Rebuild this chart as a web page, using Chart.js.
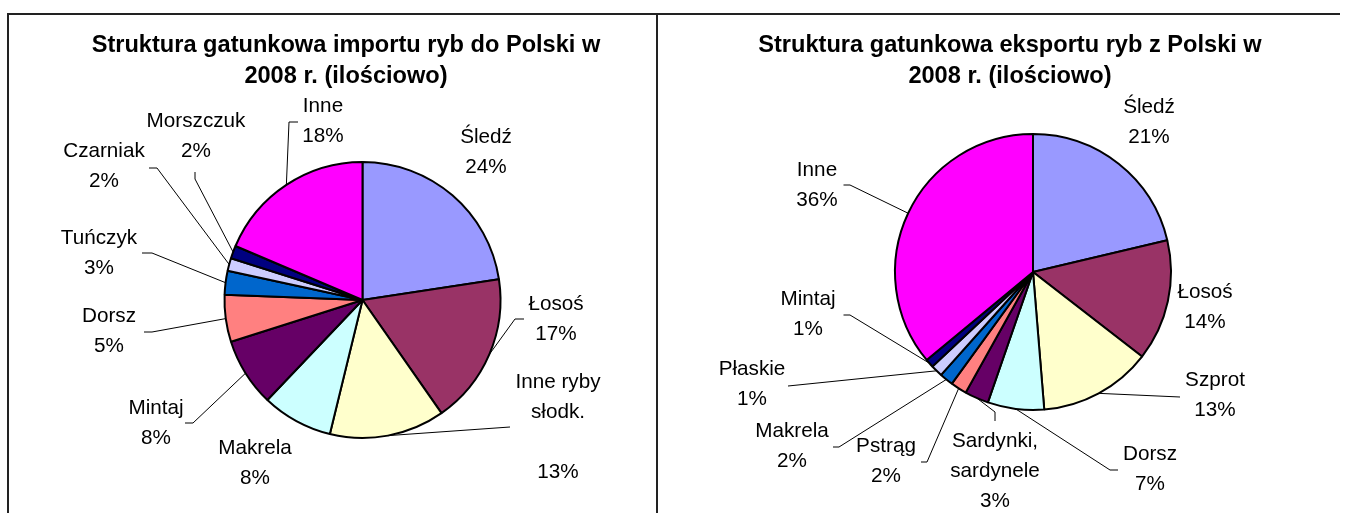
<!DOCTYPE html>
<html><head><meta charset="utf-8">
<script src="https://cdn.jsdelivr.net/npm/chart.js@4.4.1/dist/chart.umd.min.js"></script>
<style>
html,body{margin:0;padding:0;background:#fff;}
#wrap{position:relative;width:1347px;height:513px;overflow:hidden;background:#fff;}
.panel{position:absolute;top:0;height:513px;}
#p1{left:0;width:657px;}
#p2{left:657px;width:690px;}
.frame{position:absolute;background:#222;}
</style></head>
<body><div id="wrap">
<div class="panel" id="p1"><canvas id="c1"></canvas></div>
<div class="panel" id="p2"><canvas id="c2"></canvas></div>
<div class="frame" style="left:7px;top:13px;width:1333px;height:2px"></div>
<div class="frame" style="left:7px;top:13px;width:2px;height:500px"></div>
<div class="frame" style="left:656px;top:13px;width:2px;height:500px"></div>
</div>
<script>
// ---- data ----
const importLabels = ['Śledź','Łosoś','Inne ryby\nsłodk.\n','Makrela','Mintaj','Dorsz','Tuńczyk','Czarniak','Morszczuk','Inne'];
const importValues = [22.6,17.7,13.5,8.3,8.0,5.5,2.8,1.5,1.5,18.6];
const importPct = ['24%','17%','13%','8%','8%','5%','3%','2%','2%','18%'];
const importColors = ['#9999FF','#993366','#FFFFCC','#CCFFFF','#660066','#FF8080','#0066CC','#CCCCFF','#000080','#FF00FF'];
const importTitle = ['Struktura gatunkowa importu ryb do Polski w','2008 r. (ilościowo)'];

const exportLabels = ['Śledź','Łosoś','Szprot','Dorsz','Sardynki,\nsardynele','Pstrąg','Makrela','Płaskie','Mintaj','Inne'];
const exportValues = [21.3,14.2,13.2,6.6,2.8,1.9,1.6,1.4,1.0,36.0];
const exportPct = ['21%','14%','13%','7%','3%','2%','2%','1%','1%','36%'];
const exportColors = ['#9999FF','#993366','#FFFFCC','#CCFFFF','#660066','#FF8080','#0066CC','#CCCCFF','#000080','#FF00FF'];
const exportTitle = ['Struktura gatunkowa eksportu ryb z Polski w','2008 r. (ilościowo)'];

// ---- label placement (offsets from pie centre) ----
const importPlace = [
  {x:123.5,y:-157},
  {x:193.5,y:10, lead:[[161.5,19],[152.5,19]]},
  {x:195.5,y:88, lead:[[147.5,127]]},
  {x:-107.5,y:154},
  {x:-206.5,y:114, lead:[[-177.5,123],[-169.5,123]]},
  {x:-253.5,y:22, lead:[[-218.5,32],[-210.5,32]]},
  {x:-263.5,y:-56, lead:[[-220.5,-47],[-210.5,-47]]},
  {x:-258.5,y:-143, lead:[[-213.5,-132],[-205.5,-132]]},
  {x:-166.5,y:-173, lead:[[-167.5,-128],[-167.5,-121]]},
  {x:-39.5,y:-188, lead:[[-64.5,-178],[-73.5,-178]]}
];
const exportPlace = [
  {x:116,y:-159},
  {x:172,y:26},
  {x:182,y:114, lead:[[147,125]]},
  {x:117,y:188, lead:[[85,198],[77,198]]},
  {x:-38,y:175, lead:[[-38,149],[-38,140]]},
  {x:-147,y:180, lead:[[-112,190],[-106,190]]},
  {x:-241,y:165, lead:[[-200,175],[-194,175]]},
  {x:-281,y:103, lead:[[-245,114]]},
  {x:-225,y:33, lead:[[-189.5,43],[-183,43]]},
  {x:-216,y:-96, lead:[[-189.5,-87],[-183,-87]]}
];

const FONT = '"Liberation Sans", Arial, sans-serif';

const pieLabels = {
  id: 'pieLabels',
  afterDraw(chart, args, opts) {
    const ctx = chart.ctx;
    const meta = chart.getDatasetMeta(0);
    const cx = meta.data[0].x, cy = meta.data[0].y;
    ctx.save();
    ctx.fillStyle = '#000';
    ctx.textAlign = 'center';
    ctx.textBaseline = 'alphabetic';
    ctx.font = 'bold 23.6px ' + FONT;
    opts.title.forEach((t, i) => ctx.fillText(t, opts.titleX, opts.titleY + i * 30.5));
    ctx.strokeStyle = '#000';
    ctx.lineWidth = 1;
    ctx.font = '20.7px ' + FONT;
    const labels = chart.data.labels;
    opts.place.forEach((P, i) => {
      const arc = meta.data[i];
      const p = arc.getProps(['startAngle','endAngle','outerRadius'], true);
      const mid = (p.startAngle + p.endAngle) / 2;
      if (P.lead) {
        ctx.beginPath();
        ctx.moveTo(cx + P.lead[0][0], cy + P.lead[0][1]);
        for (let k = 1; k < P.lead.length; k++) ctx.lineTo(cx + P.lead[k][0], cy + P.lead[k][1]);
        ctx.lineTo(cx + Math.cos(mid) * p.outerRadius, cy + Math.sin(mid) * p.outerRadius);
        ctx.stroke();
      }
      const lines = (labels[i] + '\n' + opts.pct[i]).split('\n');
      lines.forEach((s, k) => ctx.fillText(s, cx + P.x, cy + P.y + k * 30));
    });
    ctx.restore();
  }
};

function makePie(id, labels, values, colors, pct, place, title, titleX, padding) {
  return new Chart(document.getElementById(id), {
    type: 'pie',
    data: {
      labels: labels,
      datasets: [{
        data: values,
        backgroundColor: colors,
        borderColor: '#000',
        borderWidth: 2,
        radius: 138,
        hoverOffset: 0
      }]
    },
    options: {
      responsive: true,
      maintainAspectRatio: false,
      animation: false,
      layout: { padding: padding },
      plugins: {
        legend: { display: false },
        tooltip: { enabled: false },
        title: { display: false },
        pieLabels: { pct: pct, place: place, title: title, titleX: titleX, titleY: 52 }
      },
      events: []
    },
    plugins: [pieLabels]
  });
}

makePie('c1', importLabels, importValues, importColors, importPct, importPlace, importTitle, 346,
  {left:100, right:32, top:120, bottom:33});
makePie('c2', exportLabels, exportValues, exportColors, exportPct, exportPlace, exportTitle, 353,
  {left:100, right:38, top:100, bottom:69});
</script>
</body></html>
